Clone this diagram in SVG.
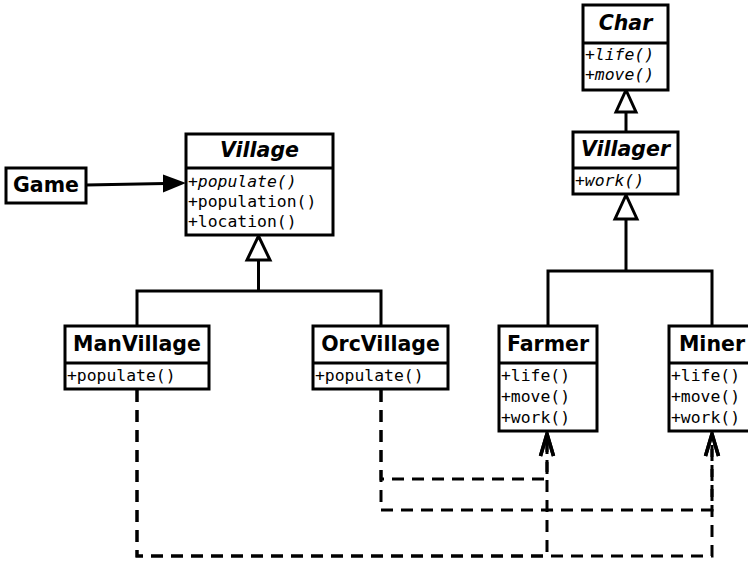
<svg xmlns="http://www.w3.org/2000/svg" width="748" height="562" viewBox="0 0 748 562">
<style>
.box{fill:#fff;stroke:#000;stroke-width:3}
.sep{stroke:#000;stroke-width:3}
.t{font-family:"DejaVu Sans",sans-serif;font-weight:bold;font-size:20.5px;text-anchor:middle;fill:#000}
.ti{font-style:italic}
.m{font-family:"DejaVu Sans Mono",monospace;font-size:16.4px;fill:#000}
.mi{font-style:italic}
.gen{fill:none;stroke:#000;stroke-width:3}
.tri{fill:#fff;stroke:#000;stroke-width:3}
.dep{fill:none;stroke:#000;stroke-width:3;stroke-dasharray:12 8}
</style>
<defs>
<marker id="open" markerUnits="userSpaceOnUse" markerWidth="30" markerHeight="30" refX="0" refY="0" orient="auto" viewBox="-25 -12 30 24" overflow="visible">
<path d="M-22,-6.5 L0,0 L-22,6.5" fill="none" stroke="#000" stroke-width="3.5"/>
</marker>
</defs>
<g id="connectors">
<line x1="86" y1="185" x2="165" y2="183.5" stroke="#000" stroke-width="3"/>
<polygon points="186,183 163,174.5 163,192.5" fill="#000"/>
<line x1="626" y1="112" x2="626" y2="132" class="gen"/>
<polygon points="626,90 616,112 636,112" class="tri"/>
<path d="M258.5,260 V291 M137,326 V291 H381 V326" class="gen"/>
<polygon points="258.5,236 247,260 270,260" class="tri"/>
<path d="M626,219 V271 M548,326 V271 H712 V326" class="gen"/>
<polygon points="626,195 615,219 637,219" class="tri"/>
<path d="M137,390 V556 H547 V434" class="dep" marker-end="url(#open)"/>
<path d="M137,390 V556 H712 V434" class="dep" marker-end="url(#open)"/>
<path d="M381,390 V479 H547 V434" class="dep" marker-end="url(#open)"/>
<path d="M381,390 V510 H712 V434" class="dep" marker-end="url(#open)"/>
</g>
<g id="Game">
<rect x="6" y="168" width="80" height="35" class="box"/>
<text x="46" y="192" class="t">Game</text>
</g>
<g id="Village">
<rect x="186" y="134" width="147" height="101" class="box"/>
<line x1="186" y1="168" x2="333" y2="168" class="sep"/>
<text x="259.5" y="157" class="t ti">Village</text>
<text x="188" y="187" class="m mi">+populate()</text>
<text x="188" y="207" class="m">+population()</text>
<text x="188" y="227" class="m">+location()</text>
</g>
<g id="Char">
<rect x="583" y="5" width="85" height="85" class="box"/>
<line x1="583" y1="43" x2="668" y2="43" class="sep"/>
<text x="625.5" y="30" class="t ti">Char</text>
<text x="585" y="60" class="m mi">+life()</text>
<text x="585" y="80" class="m mi">+move()</text>
</g>
<g id="Villager">
<rect x="573" y="132" width="105" height="62" class="box"/>
<line x1="573" y1="168" x2="678" y2="168" class="sep"/>
<text x="625.5" y="156" class="t ti">Villager</text>
<text x="575" y="186" class="m mi">+work()</text>
</g>
<g id="ManVillage">
<rect x="65" y="326" width="144" height="63" class="box"/>
<line x1="65" y1="363" x2="209" y2="363" class="sep"/>
<text x="137" y="351" class="t">ManVillage</text>
<text x="67" y="381" class="m">+populate()</text>
</g>
<g id="OrcVillage">
<rect x="313" y="326" width="135" height="63" class="box"/>
<line x1="313" y1="363" x2="448" y2="363" class="sep"/>
<text x="380.5" y="351" class="t">OrcVillage</text>
<text x="315" y="381" class="m">+populate()</text>
</g>
<g id="Farmer">
<rect x="499" y="326" width="98" height="105" class="box"/>
<line x1="499" y1="363" x2="597" y2="363" class="sep"/>
<text x="548" y="351" class="t">Farmer</text>
<text x="501" y="381" class="m">+life()</text>
<text x="501" y="402" class="m">+move()</text>
<text x="501" y="423" class="m">+work()</text>
</g>
<g id="Miner">
<rect x="669" y="326" width="86" height="105" class="box"/>
<line x1="669" y1="363" x2="755" y2="363" class="sep"/>
<text x="712" y="351" class="t">Miner</text>
<text x="671" y="381" class="m">+life()</text>
<text x="671" y="402" class="m">+move()</text>
<text x="671" y="423" class="m">+work()</text>
</g>
</svg>
